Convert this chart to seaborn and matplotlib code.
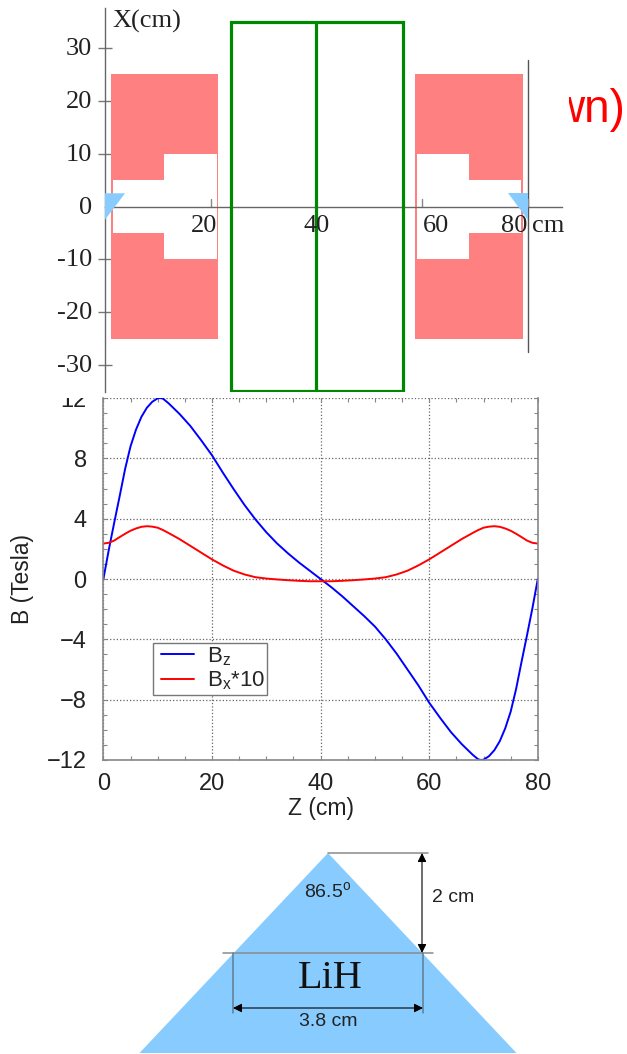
import numpy as np, pandas as pd, matplotlib
matplotlib.use('Agg')
import matplotlib.pyplot as plt
from matplotlib.lines import Line2D
from matplotlib.legend_handler import HandlerLine2D
from matplotlib.patches import Polygon, Rectangle
from matplotlib.ticker import MultipleLocator
from matplotlib.transforms import Bbox, TransformedBbox
import seaborn as sns

# field curves
z_bz = [0,1,2,3,4,5,6,7,8,9,10,10.5,11,12,14,16,18,20,22,24,26,28,30,32,34,36,38,40,
        42,44,46,48,50,52,54,56,58,60,62,64,66,68,69,69.5,70,71,72,73,74,75,76,77,78,79,80]
bz = [0,1.95,3.75,5.5,7.3,8.8,9.9,10.75,11.35,11.75,11.98,12,11.95,11.65,10.95,10.15,9.2,8.2,7.05,5.95,4.9,3.95,3.1,2.35,1.7,1.1,.55,0,
      -.55,-1.15,-1.8,-2.45,-3.15,-4,-4.95,-6,-7.05,-8.2,-9.2,-10.15,-10.95,-11.65,-11.95,-12,-11.98,-11.75,-11.35,-10.75,-9.9,-8.8,-7.3,-5.5,-3.75,-1.95,0]
z_bx = [0,1,2,3,4,5,6,7,8,9,10,11,12,14,16,18,20,22,24,26,28,30,32,34,36,38,40,
        42,44,46,48,50,52,54,56,58,60,62,64,66,68,69,70,71,72,73,74,75,76,77,78,79,80]
bx = [2.35,2.4,2.55,2.78,3,3.2,3.35,3.46,3.5,3.47,3.4,3.24,3.05,2.65,2.2,1.75,1.3,.9,.55,.3,.12,.03,-.03,-.08,-.12,-.15,-.15,
      -.15,-.12,-.08,-.03,.03,.12,.3,.55,.9,1.3,1.75,2.2,2.65,3.05,3.24,3.4,3.47,3.5,3.46,3.35,3.2,3,2.78,2.55,2.4,2.35]

# magnet and target geometry in cm
mag_left = [1.1, 21.4]
mag_right = [58.6, 79]
mag_half = 25
gap_narrow = 5
gap_wide = 10
box_z = [23.8, 56.4]
box_x = [-35, 35]
box_mid = 40
x_ticks = [-30, -20, -10, 0, 10, 20, 30]
z_ticks = [20, 40, 60, 80]

# LiH cone in cm
cone_z = [0, -3.77, 3.77]
cone_y = [0, -4, -4]
lih_w = 3.8
lih_h = 2

W, H = 627, 1054
sns.set_theme(style='white')
plt.rcParams['font.family'] = ['Liberation Sans', 'DejaVu Sans']
plt.rcParams['mathtext.default'] = 'regular'
fig = plt.figure(figsize=(W/100, H/100), dpi=100, facecolor='white')

def px_axes(l, t, r, b):
    return fig.add_axes([l/W, 1-b/H, (r-l)/W, (b-t)/H])

def clip_px(l, t, r, b):
    return TransformedBbox(Bbox([[l/W, 1-b/H], [r/W, 1-t/H]]), fig.transFigure)

# Panel 1: magnet layout
ax = px_axes(105, 8, 562, 392)
ax.set_facecolor('none')
ax.set_xlim(0, 457/5.285)
ax.set_ylim(-185.5/5.285, 198.5/5.285)
RED, BLUE, GREEN = '#ff8080', '#88ccff', '#008800'
for (a, b), flip in ((mag_left, False), (mag_right, True)):
    ax.add_patch(Rectangle((a, -mag_half), b-a, 2*mag_half, fc=RED, ec='none', zorder=1))
    m = (a+b)/2
    xs = [a+.35, m, m, b-.3, b-.3, m, m, a+.35]
    if flip:
        ys = [gap_wide, gap_wide, gap_narrow, gap_narrow, -gap_narrow, -gap_narrow, -gap_wide, -gap_wide]
    else:
        ys = [gap_narrow, gap_narrow, gap_wide, gap_wide, -gap_wide, -gap_wide, -gap_narrow, -gap_narrow]
    ax.add_patch(Polygon(list(zip(xs, ys)), fc='white', ec='none', zorder=1.1))
ax.add_patch(Rectangle((box_z[0], box_x[0]), box_z[1]-box_z[0], box_x[1]-box_x[0],
                       fc='none', ec=GREEN, lw=2.3, zorder=3))
ax.plot([box_mid, box_mid], box_x, color=GREEN, lw=2.3, zorder=3)
ax.plot([80, 80], [-27.6, 27.7], color='#555555', lw=1, zorder=2)
ax.add_patch(Polygon([(0, 2.5), (3.8, 2.5), (0, -2.5)], fc=BLUE, ec='none', zorder=5))
ax.add_patch(Polygon([(76.2, 2.5), (80, 2.5), (80, -2.5)], fc=BLUE, ec='none', zorder=5))
for s in ('top', 'right'):
    ax.spines[s].set_visible(False)
for s in ('left', 'bottom'):
    ax.spines[s].set_position('zero')
    ax.spines[s].set_color('#666666')
    ax.spines[s].set_linewidth(1)
    ax.spines[s].set_zorder(2)
ax.set_yticks([t for t in x_ticks if t != 0])
ax.set_xticks([])
ax.tick_params(axis='y', direction='inout', length=10, width=1, color='#777777',
               labelleft=False, left=True)
ax.patch.set_visible(False)
serif = ['Liberation Serif', 'DejaVu Serif']
for t in x_ticks:
    ax.annotate(str(t), (0, t), xytext=(-13, -1), textcoords='offset pixels',
                ha='right', va='center', fontsize=19, family=serif, color='#222222')
for t, off in zip(z_ticks, (-7, 0, 14, -14)):
    ax.plot([t, t], [0, 1.4], color='#888888', lw=1, zorder=2)
    ax.annotate(str(t), (t, 0), xytext=(off, -19), textcoords='offset pixels',
                ha='center', va='center', fontsize=19, family=serif, color='#222222', zorder=4)
ax.annotate('cm', (80, 0), xytext=(20, -19), textcoords='offset pixels',
            ha='center', va='center', fontsize=19, family=serif, color='#222222')
ax.text(1.4, 35, 'X(cm)', fontsize=19, family=serif, color='#222222', ha='left', va='center')

# clipped red word on the right
t = fig.text(625/W, 1-122/H, 'wn)', color='#ff0000', fontsize=33, ha='right', va='baseline')
t.set_clip_box(clip_px(569, 60, 627, 150))
t.set_clip_on(True)

# Panel 2: field profile
ax2 = px_axes(103.4, 398, 537.8, 760)
ax2.set_facecolor('none')
sns.lineplot(x=z_bz, y=bz, ax=ax2, color='#0000ff', lw=1.4, label='B$_z$', estimator=None, sort=False)
sns.lineplot(x=z_bx, y=bx, ax=ax2, color='#ff0000', lw=1.4, label='B$_x$*10', estimator=None, sort=False)
ax2.set_xlim(0, 80)
ax2.set_ylim(-12, 12)
ax2.set_xticks([0, 20, 40, 60, 80])
ax2.set_yticks([-12, -8, -4, 0, 4, 8, 12])
ax2.set_yticklabels(['\u221212', '\u22128', '\u22124', '0', '4', '8', '12'])
ax2.xaxis.set_minor_locator(MultipleLocator(5))
ax2.yaxis.set_minor_locator(MultipleLocator(1))
ax2.grid(True, which='major', ls=':', color='#666666', lw=0.9)
ax2.tick_params(which='both', direction='in', top=True, right=True, bottom=True, left=True,
                color='#888888', length=3, width=0.8, labelsize=17, labelcolor='#222222')
ax2.tick_params(axis='y', which='major', pad=12)
ax2.tick_params(axis='x', which='major', pad=9)
ax2.spines['top'].set_visible(False)
for s in ('left', 'right', 'bottom'):
    ax2.spines[s].set_color('#888888')
    ax2.spines[s].set_linewidth(1.2)
ax2.set_xlabel('Z (cm)', fontsize=16.5, color='#222222', labelpad=2)
ax2.set_ylabel('B (Tesla)', fontsize=16.5, color='#222222', labelpad=9)
for lbl in ax2.get_yticklabels():
    lbl.set_clip_box(clip_px(0, 398, 103, 800))
    lbl.set_clip_on(True)
leg = ax2.legend(loc='upper left', bbox_to_anchor=((152.5-103.4)/434.4, (760-642.7)/362),
                 fontsize=16, frameon=True, fancybox=False, edgecolor='#777777', framealpha=1,
                 handlelength=1.75, handletextpad=0.6, borderpad=0.1, labelspacing=0.1, borderaxespad=0,
                 handler_map={Line2D: HandlerLine2D(xpad=0.3)})
leg.get_frame().set_linewidth(1)

# Panel 3: LiH cone
ax3 = px_axes(120, 840, 540, 1054)
ax3.set_xlim(-208/50, 212/50)
ax3.set_ylim(-201/50, 13/50)
ax3.axis('off')
ax3.add_patch(Polygon(list(zip(cone_z, cone_y)), fc=BLUE, ec='none'))
hw = lih_w/2
GRAY = '#8a8a8a'
ax3.plot([0, hw+.1], [0, 0], color=GRAY, lw=1.1)
ax3.plot([-hw-.2, hw+.2], [-lih_h, -lih_h], color=GRAY, lw=1.1)
ax3.plot([-hw, -hw], [-lih_h, -3.2], color='#5f7f95', lw=1.1)
ax3.plot([hw, hw], [-lih_h, -3.2], color='#5f7f95', lw=1.1)
ax3.annotate('', (hw-.02, 0), (hw-.02, -lih_h), arrowprops=dict(arrowstyle='<|-|>', color='black', lw=0.8, shrinkA=0, shrinkB=0, mutation_scale=13))
ax3.annotate('', (-hw, -3.1), (hw, -3.1), arrowprops=dict(arrowstyle='<|-|>', color='black', lw=0.8, shrinkA=0, shrinkB=0, mutation_scale=13))
ax3.text(0, -.76, '86.5$^o$', ha='center', va='center', fontsize=14, color='#222222')
ax3.text(2.5, -.88, '2 cm', ha='center', va='center', fontsize=14, color='#222222')
ax3.text(0.04, -2.5, 'LiH', ha='center', va='center', fontsize=29, family=serif, color='#111111')
ax3.text(0, -3.38, '3.8 cm', ha='center', va='center', fontsize=14, color='#222222')

plt.savefig('out.png', dpi=100)
plt.close()
